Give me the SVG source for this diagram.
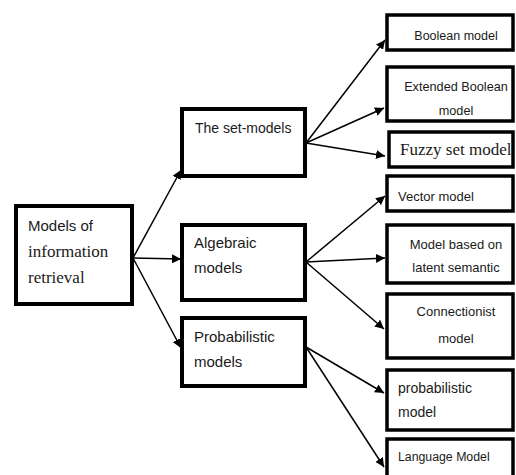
<svg xmlns="http://www.w3.org/2000/svg" width="516" height="475" viewBox="0 0 516 475">
<style>
.box{fill:#fff;stroke:#000;stroke-width:4}
.rbox{fill:#fff;stroke:#000;stroke-width:3.5}
.t{font-family:"Liberation Sans",Arial,sans-serif;fill:#1a1a1a}
.s{font-family:"Liberation Serif","Times New Roman",serif;fill:#1a1a1a}
.c line{stroke:#000;stroke-width:1.5}
</style>
<defs>
<marker id="ah" viewBox="0 0 10 10" refX="10" refY="5" markerWidth="9" markerHeight="9" markerUnits="userSpaceOnUse" orient="auto">
<path d="M0,0 L10,5 L0,10 z" fill="#000"/>
</marker>
</defs>
<g class="c" id="connectors">
<line x1="133" y1="258" x2="181" y2="170" marker-end="url(#ah)"/>
<line x1="133" y1="258" x2="181" y2="259" marker-end="url(#ah)"/>
<line x1="133" y1="258" x2="181" y2="348" marker-end="url(#ah)"/>
<line x1="306" y1="143" x2="385" y2="40" marker-end="url(#ah)"/>
<line x1="306" y1="143" x2="384" y2="108" marker-end="url(#ah)"/>
<line x1="306" y1="143" x2="385" y2="156" marker-end="url(#ah)"/>
<line x1="306" y1="262" x2="385" y2="196" marker-end="url(#ah)"/>
<line x1="306" y1="262" x2="385" y2="258" marker-end="url(#ah)"/>
<line x1="306" y1="262" x2="384" y2="329" marker-end="url(#ah)"/>
<line x1="306" y1="347" x2="384" y2="393" marker-end="url(#ah)"/>
<line x1="306" y1="347" x2="384" y2="467" marker-end="url(#ah)"/>
</g>
<g id="root">
<rect class="box" x="16" y="206" width="116" height="98"/>
<text class="t" x="28" y="231" font-size="15">Models of</text>
<text class="s" x="28" y="257" font-size="17">information</text>
<text class="s" x="28" y="283" font-size="17">retrieval</text>
</g>
<g id="set-models">
<rect class="box" x="182" y="109" width="123" height="67"/>
<text class="t" x="195" y="133" font-size="14">The set-models</text>
</g>
<g id="algebraic">
<rect class="box" x="182" y="225" width="123" height="75"/>
<text class="t" x="194" y="248" font-size="15">Algebraic</text>
<text class="t" x="194" y="273" font-size="15">models</text>
</g>
<g id="probabilistic">
<rect class="box" x="182" y="318" width="123" height="68"/>
<text class="t" x="194" y="342" font-size="15">Probabilistic</text>
<text class="t" x="194" y="367" font-size="15">models</text>
</g>
<g id="boolean">
<rect class="rbox" x="387" y="15" width="126" height="35"/>
<text class="t" x="456" y="40" font-size="12.5" text-anchor="middle">Boolean model</text>
</g>
<g id="extended-boolean">
<rect class="rbox" x="387" y="67" width="126" height="54"/>
<text class="t" x="456" y="91" font-size="12.7" text-anchor="middle">Extended Boolean</text>
<text class="t" x="456" y="115" font-size="12.7" text-anchor="middle">model</text>
</g>
<g id="fuzzy">
<rect class="rbox" x="389" y="132" width="124" height="35"/>
<text class="s" x="400" y="155" font-size="17">Fuzzy set model</text>
</g>
<g id="vector">
<rect class="rbox" x="387" y="176" width="126" height="35"/>
<text class="t" x="398" y="201" font-size="13">Vector model</text>
</g>
<g id="latent-semantic">
<rect class="rbox" x="387" y="225" width="126" height="58"/>
<text class="t" x="456" y="249" font-size="13" text-anchor="middle">Model based on</text>
<text class="t" x="456" y="272" font-size="13" text-anchor="middle">latent semantic</text>
</g>
<g id="connectionist">
<rect class="rbox" x="387" y="294" width="126" height="64"/>
<text class="t" x="456" y="316" font-size="13" text-anchor="middle">Connectionist</text>
<text class="t" x="456" y="343" font-size="13" text-anchor="middle">model</text>
</g>
<g id="probabilistic-model">
<rect class="rbox" x="387" y="370" width="126" height="60"/>
<text class="t" x="398" y="393" font-size="14">probabilistic</text>
<text class="t" x="398" y="417" font-size="14">model</text>
</g>
<g id="language-model">
<rect class="rbox" x="387" y="439" width="126" height="40"/>
<text class="t" x="398" y="461" font-size="12.3">Language Model</text>
</g>
</svg>
